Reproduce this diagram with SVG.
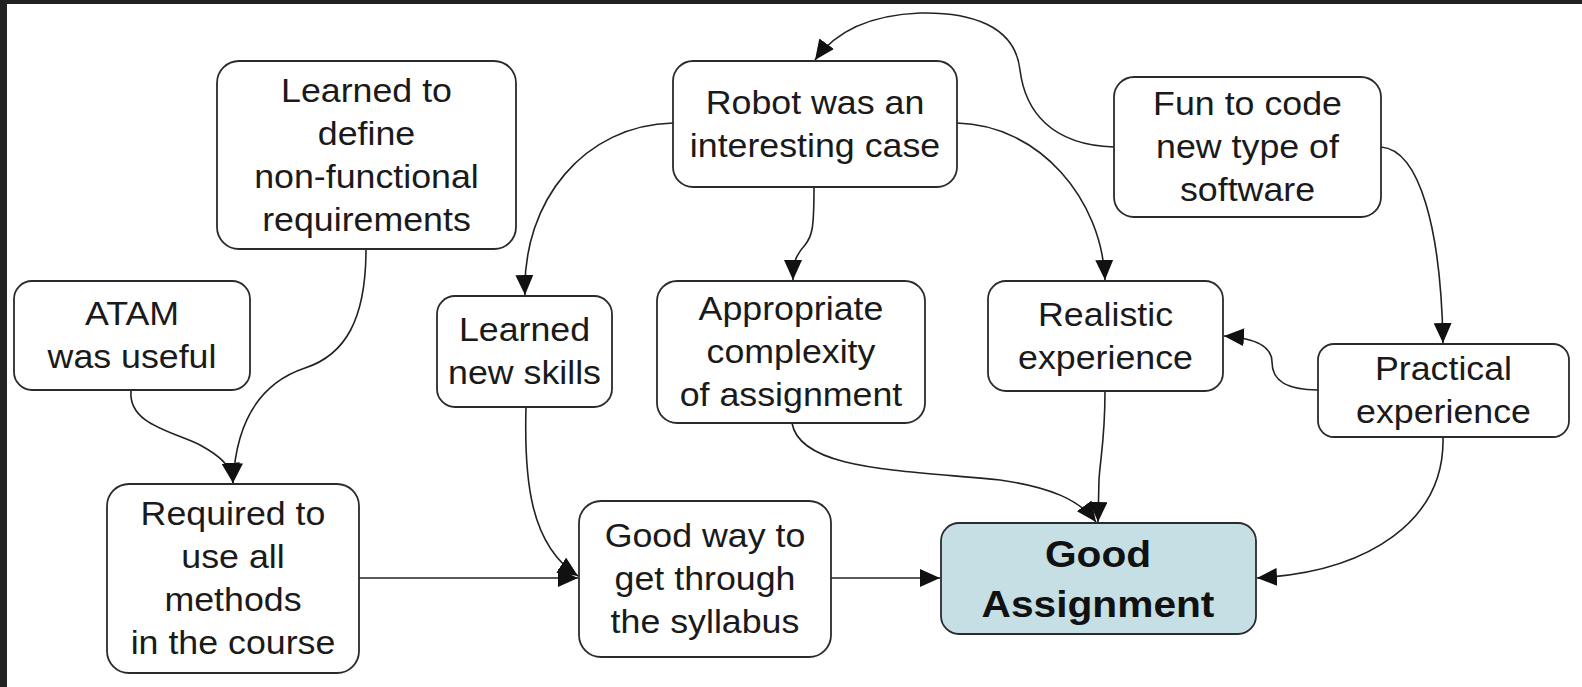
<svg xmlns="http://www.w3.org/2000/svg" width="1582" height="687" viewBox="0 0 1582 687">
<style>
.box{fill:#ffffff;stroke:#2b2b2b;stroke-width:1.8}
.goal{fill:#c5dfe5;stroke:#2b2b2b;stroke-width:1.8}
.t{font-family:"Liberation Sans",Arial,Helvetica,sans-serif;font-size:32.5px;fill:#1a1a1a;text-anchor:middle}
.tb{font-family:"Liberation Sans",Arial,Helvetica,sans-serif;font-size:37px;font-weight:bold;fill:#111;text-anchor:middle}
.c{fill:none;stroke:#222;stroke-width:1.6;marker-end:url(#ah)}
</style>
<defs>
<marker id="ah" markerUnits="userSpaceOnUse" markerWidth="21" markerHeight="18" refX="20" refY="9" orient="auto" viewBox="0 0 21 18">
<path d="M0,0 L20,9 L0,18 z" fill="#111"/>
</marker>
</defs>
<rect x="0" y="0" width="1582" height="687" fill="#ffffff"/>
<rect x="0" y="0" width="1582" height="4" fill="#222"/>
<rect x="0" y="0" width="7" height="687" fill="#222"/>

<g id="connectors">
<path class="c" d="M131,391 C128,425 175,432 200,445 C220,456 231,465 233,483"/>
<path class="c" d="M366,249 C366,320 345,355 305,368 C260,383 236,420 233,483"/>
<path class="c" d="M673,123 C585,125 522,200 525,295"/>
<path class="c" d="M814,187 C814,230 812,236 805,245 C796,255 793,262 793,280"/>
<path class="c" d="M957,123 C1040,125 1102,200 1105,280"/>
<path class="c" d="M1114,147 C1050,145 1025,110 1020,70 C1015,25 970,12 920,13 C870,15 835,32 815,60"/>
<path class="c" d="M1381,147 C1420,150 1441,230 1443,343"/>
<path class="c" d="M1318,390 C1285,390 1272,380 1272,362 C1272,346 1255,338 1224,336"/>
<path class="c" d="M1443,437 C1445,520 1370,572 1257,578"/>
<path class="c" d="M1105,391 C1105,440 1100,460 1099,480 L1098,522"/>
<path class="c" d="M792,423 C800,470 900,470 1000,480 C1050,487 1080,500 1096,522"/>
<path class="c" d="M359,578 L578,578"/>
<path class="c" d="M526,407 C524,480 530,545 578,576"/>
<path class="c" d="M831,578 L940,578"/>
</g>

<g id="node-learned-define">
<rect class="box" x="217" y="61" width="299" height="188" rx="22"/>
<text class="t" transform="translate(366.5 0) scale(1.1 1)"><tspan x="0" y="102">Learned to</tspan><tspan x="0" y="145">define</tspan><tspan x="0" y="188">non-functional</tspan><tspan x="0" y="231">requirements</tspan></text>
</g>

<g id="node-robot">
<rect class="box" x="673" y="61" width="284" height="126" rx="20"/>
<text class="t" transform="translate(815 0) scale(1.1 1)"><tspan x="0" y="114">Robot was an</tspan><tspan x="0" y="157">interesting case</tspan></text>
</g>

<g id="node-fun">
<rect class="box" x="1114" y="77" width="267" height="140" rx="20"/>
<text class="t" transform="translate(1247.5 0) scale(1.1 1)"><tspan x="0" y="115.5">Fun to code</tspan><tspan x="0" y="158.5">new type of</tspan><tspan x="0" y="201.5">software</tspan></text>
</g>

<g id="node-atam">
<rect class="box" x="14" y="281" width="236" height="109" rx="18"/>
<text class="t" transform="translate(132 0) scale(1.1 1)"><tspan x="0" y="325.5">ATAM</tspan><tspan x="0" y="368.5">was useful</tspan></text>
</g>

<g id="node-learned-skills">
<rect class="box" x="437" y="296" width="175" height="111" rx="18"/>
<text class="t" transform="translate(524.5 0) scale(1.1 1)"><tspan x="0" y="341.5">Learned</tspan><tspan x="0" y="384.5">new skills</tspan></text>
</g>

<g id="node-appropriate">
<rect class="box" x="657" y="281" width="268" height="142" rx="20"/>
<text class="t" transform="translate(791 0) scale(1.1 1)"><tspan x="0" y="320.5">Appropriate</tspan><tspan x="0" y="363.5">complexity</tspan><tspan x="0" y="406.5">of assignment</tspan></text>
</g>

<g id="node-realistic">
<rect class="box" x="988" y="281" width="235" height="110" rx="18"/>
<text class="t" transform="translate(1105.5 0) scale(1.1 1)"><tspan x="0" y="326">Realistic</tspan><tspan x="0" y="369">experience</tspan></text>
</g>

<g id="node-practical">
<rect class="box" x="1318" y="344" width="251" height="93" rx="16"/>
<text class="t" transform="translate(1443.5 0) scale(1.1 1)"><tspan x="0" y="380.5">Practical</tspan><tspan x="0" y="423.5">experience</tspan></text>
</g>

<g id="node-required">
<rect class="box" x="107" y="484" width="252" height="189" rx="22"/>
<text class="t" transform="translate(233 0) scale(1.1 1)"><tspan x="0" y="525.5">Required to</tspan><tspan x="0" y="568.5">use all</tspan><tspan x="0" y="611.5">methods</tspan><tspan x="0" y="654.5">in the course</tspan></text>
</g>

<g id="node-good-way">
<rect class="box" x="579" y="501" width="252" height="156" rx="22"/>
<text class="t" transform="translate(705 0) scale(1.1 1)"><tspan x="0" y="547.5">Good way to</tspan><tspan x="0" y="590.5">get through</tspan><tspan x="0" y="633.5">the syllabus</tspan></text>
</g>

<g id="node-good-assignment">
<rect class="goal" x="941" y="523" width="315" height="111" rx="18"/>
<text class="tb" transform="translate(1098 0) scale(1.1 1)"><tspan x="0" y="567">Good</tspan><tspan x="0" y="617">Assignment</tspan></text>
</g>
</svg>
